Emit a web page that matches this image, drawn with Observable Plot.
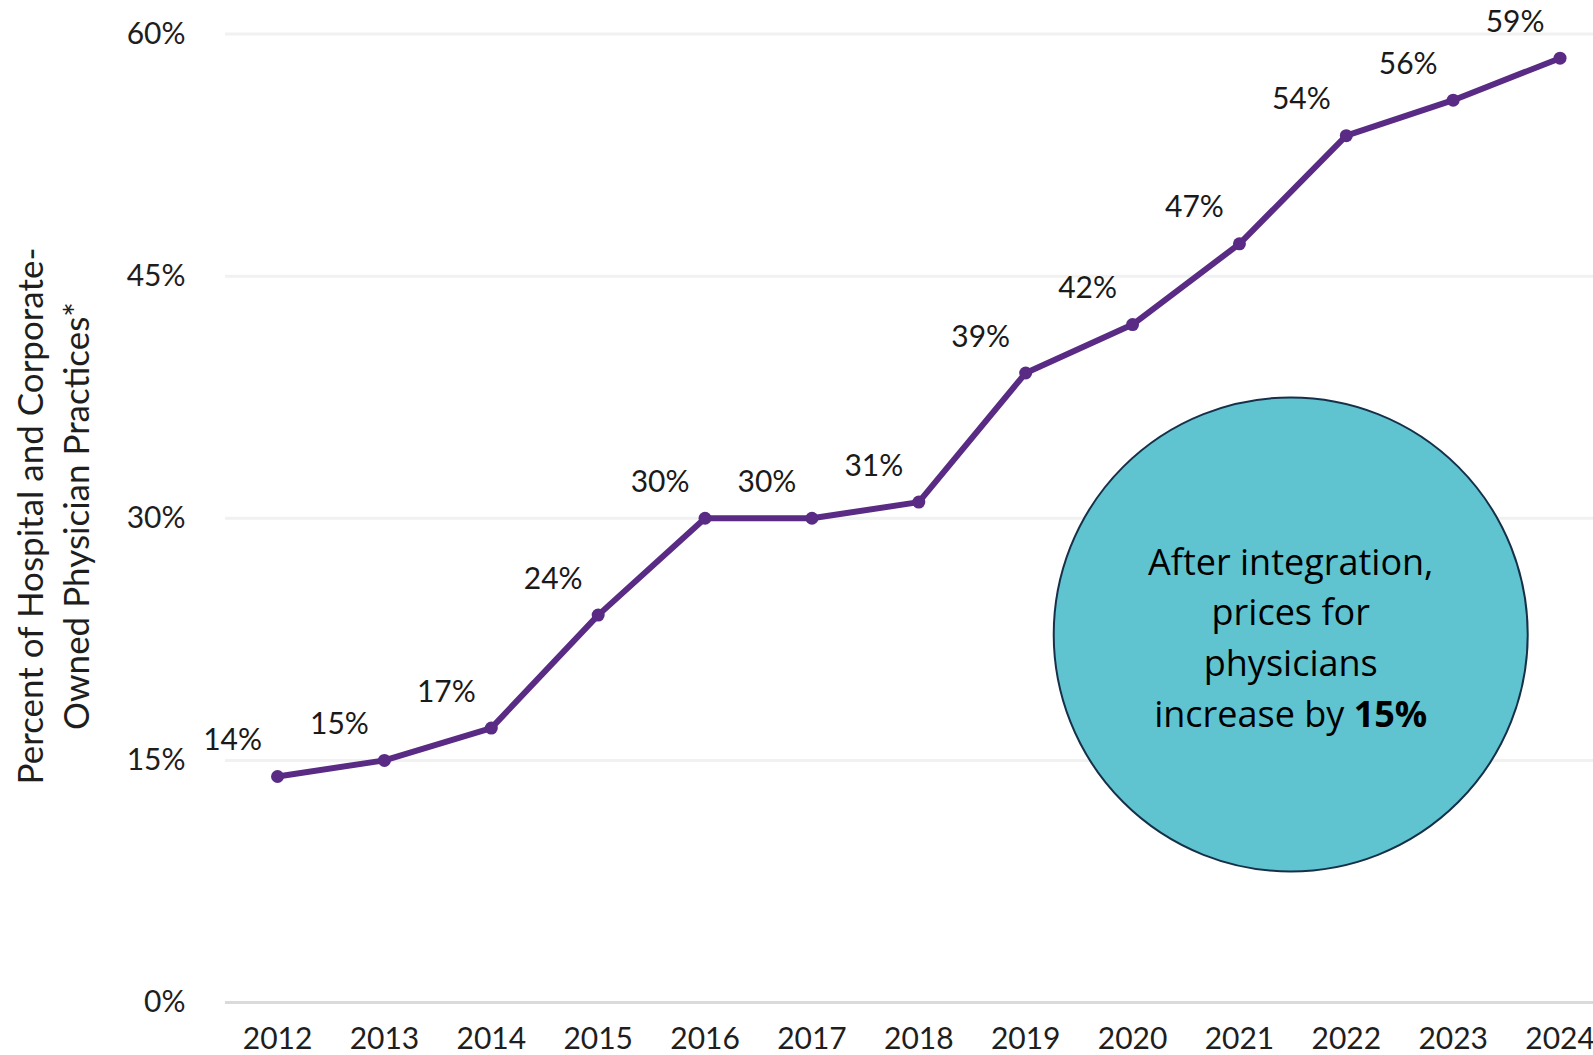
<!DOCTYPE html>
<html>
<head>
<meta charset="utf-8">
<script src="https://cdn.jsdelivr.net/npm/d3@7"></script>
<script src="https://cdn.jsdelivr.net/npm/@observablehq/plot@0.6"></script>
<style>
  html, body { margin: 0; padding: 0; background: #fff; }
  #chart svg { display: block; overflow: visible; }
</style>
</head>
<body>
<div id="chart"></div>
<script>
// ---- data ----
const years = [2012, 2013, 2014, 2015, 2016, 2017, 2018, 2019, 2020, 2021, 2022, 2023, 2024];
const shares = [14, 15, 17, 24, 30, 30, 31, 39, 42, 47, 53.7, 55.9, 58.5];
const shareLabels = ["14%", "15%", "17%", "24%", "30%", "30%", "31%", "39%", "42%", "47%", "54%", "56%", "59%"];
const yTicks = [0, 15, 30, 45, 60];
const yTitle = ["Percent of Hospital and Corporate-", "Owned Physician Practices*"];
const calloutLines = ["After integration,", "prices for", "physicians", "increase by 15%"];
const calloutBold = "15%";

const rows = years.map((year, i) => ({year, share: shares[i], label: shareLabels[i]}));
const callout = [{year: 2021.48, share: 22.8, text: calloutLines.join("\n")}];

const purple = "#592b84";
const chart = Plot.plot({
  width: 1593,
  height: 1055,
  marginLeft: 225,
  marginRight: 0,
  marginTop: 33.5,
  marginBottom: 53,
  style: {fontFamily: "Lato, sans-serif", fontSize: "30px", color: "#1e1e1e", background: "#fff"},
  x: {domain: [2011.513, 2024.313], ticks: years, tickFormat: d => String(d), tickSize: 0, tickPadding: 25.5, label: null},
  y: {domain: [0, 60], ticks: yTicks, tickFormat: d => d + "%", tickSize: 0, tickPadding: 40, label: null},
  marks: [
    Plot.ruleY(yTicks.filter(d => d > 0), {stroke: "#f1f1f1", strokeWidth: 3}),
    Plot.ruleY([0], {stroke: "#dadada", strokeWidth: 3}),
    Plot.line(rows, {x: "year", y: "share", stroke: purple, strokeWidth: 6}),
    Plot.dot(rows, {x: "year", y: "share", fill: purple, r: 6.5}),
    Plot.text(rows, {x: "year", y: "share", text: "label", dx: -45, dy: -36, fill: "#1a1a1a", fontSize: 30}),
    Plot.dot(callout, {x: "year", y: "share", r: 237, fill: "#5fc4cf", stroke: "#17304a", strokeWidth: 2}),
    Plot.text(callout, {x: "year", y: "share", text: "text", lineHeight: 1.41, fontSize: 36, fill: "#000", fontFamily: "'Open Sans', sans-serif", lineAnchor: "middle"})
  ]
});

// bold the figure in the last callout line
d3.select(chart).selectAll("tspan").each(function() {
  const t = this.textContent;
  if (t === calloutLines[calloutLines.length - 1]) {
    const sel = d3.select(this);
    const head = t.slice(0, t.length - calloutBold.length);
    sel.text(head);
    sel.append("tspan").attr("font-weight", "bold").text(calloutBold);
  }
});

// y axis title (two rotated lines)
const svg = d3.select(chart);
const title = svg.append("text")
  .attr("transform", "translate(54,516) rotate(-90)")
  .attr("text-anchor", "middle")
  .attr("font-family", "Lato, sans-serif")
  .attr("font-size", 35)
  .attr("fill", "#1e1e1e");
yTitle.forEach((line, i) => {
  title.append("tspan").attr("x", 0).attr("y", (i - 0.5) * 46).attr("dy", "0.35em").text(line);
});

document.getElementById("chart").appendChild(chart);
</script>
</body>
</html>
